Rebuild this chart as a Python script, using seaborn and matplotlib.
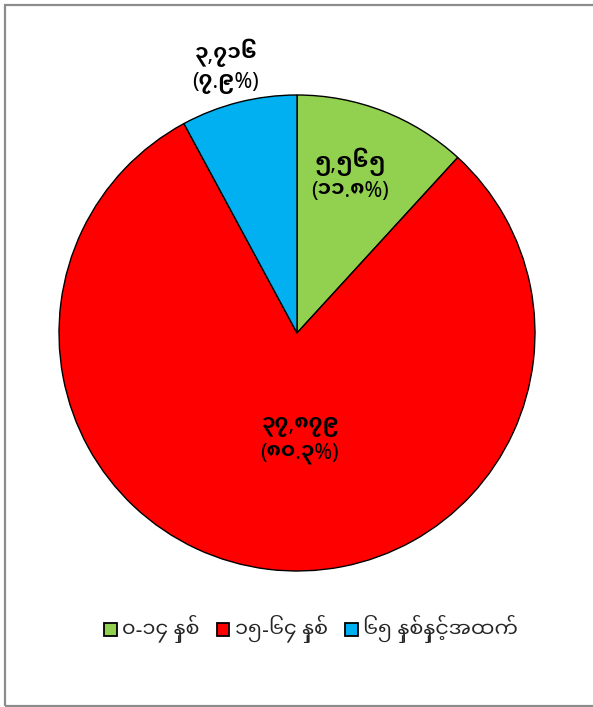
import numpy as np
import matplotlib
matplotlib.use("Agg")
import matplotlib.pyplot as plt
import seaborn as sns
from matplotlib.patches import Rectangle, Patch

# ---- data ----
categories = ["၀-၁၄ နှစ်", "၁၅-၆၄ နှစ်", "၆၅ နှစ်နှင့်အထက်"]
values = [5565, 37879, 3716]
value_labels = ["၅,၅၆၅", "၃၇,၈၇၉", "၃,၇၁၆"]
pct_labels = ["(၁၁.၈%)", "(၈၀.၃%)", "(၇.၉%)"]
colors = ["#92D050", "#FF0000", "#00B0F0"]

sns.set_theme(style="white")
plt.rcParams['font.family'] = ["Noto Sans Myanmar UI", "Noto Sans Myanmar", "DejaVu Sans"]

W, H = 593, 707
fig = plt.figure(figsize=(W / 100, H / 100), dpi=100)

# outer frame
fig.patches.append(Rectangle((4.5 / W, 1.5 / H), 1.2, (H - 6) / H, transform=fig.transFigure,
                             fill=False, edgecolor="#8c8c8c", linewidth=1.6))

cx, cy, r = 297, 333, 238
ax = fig.add_axes([(cx - r) / W, (H - cy - r) / H, 2 * r / W, 2 * r / H])
wedges, _ = ax.pie(values, colors=colors, startangle=90, counterclock=False, radius=1,
                   wedgeprops=dict(edgecolor="black", linewidth=1.0))
ax.set_xlim(-1, 1)
ax.set_ylim(-1, 1)
ax.set_aspect("equal")
ax.axis("off")

dists = [0.70, 0.45, 1.16]
ang_off = [2.7, 8.6, 0.9]
for w, d, o, vl, pl in zip(wedges, dists, ang_off, value_labels, pct_labels):
    ang = np.deg2rad((w.theta1 + w.theta2) / 2 + o)
    x, y = d * np.cos(ang), d * np.sin(ang)
    ax.text(x, y, vl + "\n" + pl, ha="center", va="center", fontsize=15.5,
            fontweight="bold", color="black", linespacing=1.3, clip_on=False)

handles = [Patch(facecolor=c, edgecolor="black", linewidth=1.3) for c in colors]
fig.legend(handles, categories, loc="center", bbox_to_anchor=(311 / W, 1 - 629 / H),
           ncol=3, frameon=False, fontsize=15, handlelength=0.6, handleheight=0.6,
           handletextpad=0.25, columnspacing=0.85)

fig.savefig("out.png", dpi=100)
